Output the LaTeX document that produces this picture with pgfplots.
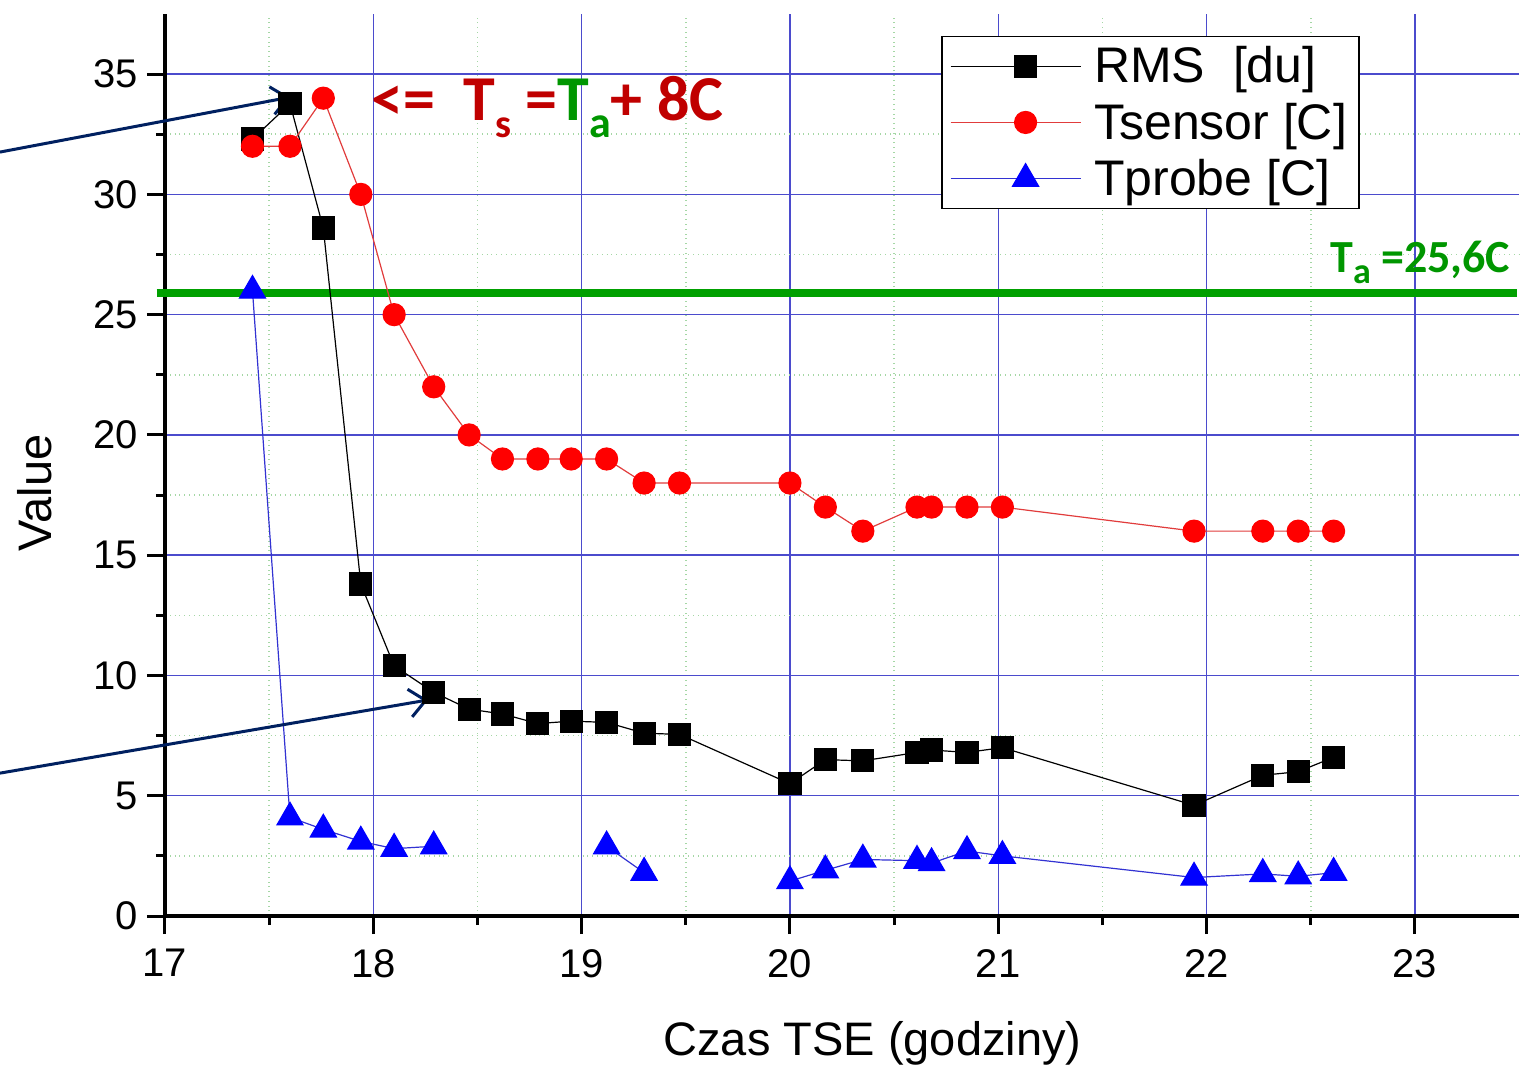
\documentclass[border=0pt]{standalone}
\usepackage{fontspec}
\setmainfont{Liberation Sans}
\newfontfamily\calibri{Carlito}
\usepackage{pgfplots}
\pgfplotsset{compat=1.18}
\usetikzlibrary{arrows.meta}
\definecolor{gridblue}{RGB}{75,75,205}
\definecolor{gridgreen}{RGB}{165,215,165}
\definecolor{darkred}{RGB}{192,0,0}
\definecolor{tagreen}{RGB}{0,160,0}
\definecolor{txtgreen}{RGB}{0,150,0}
\definecolor{navy}{RGB}{0,32,96}
\definecolor{linered}{RGB}{225,60,60}
\definecolor{lineblue}{RGB}{50,50,210}
\newcommand{\sub}[3]{\raisebox{-#1}{\fontsize{#2}{#2}\selectfont #3}}
\begin{document}
\begin{tikzpicture}
\useasboundingbox (-82.5pt,-77.5pt) rectangle (683pt,458pt);
\begin{axis}[
  at={(0,0)}, anchor=south west,
  scale only axis, width=677pt, height=451pt,
  xmin=17, xmax=23.5, ymin=0, ymax=37.5,
  clip=false,
  axis x line*=bottom, axis y line*=left,
  axis line style={line width=2pt, black},
  xtick={17,...,23}, ytick={0,5,...,35},
  minor x tick num=1, minor y tick num=1,
  tick align=outside,
  major tick length=9pt, minor tick length=4.5pt,
  every tick/.style={black, line width=1.5pt},
  grid=both,
  major grid style={gridblue, line width=0.7pt},
  minor grid style={gridgreen, dotted, line width=0.8pt},
  tick label style={font=\fontsize{20}{22}\selectfont},
  xticklabel style={yshift=-4pt},
  yticklabel style={xshift=-1pt},
  /pgf/number format/assume math mode=true,
  xlabel={Czas TSE (godziny)}, ylabel={Value},
  label style={font=\fontsize{23.5}{26}\selectfont},
  xlabel style={at={(axis description cs:0.5225,-0.1408)}, anchor=center},
  ylabel style={at={(axis description cs:-0.096,0.469)}, anchor=center},
  legend style={at={(axis description cs:0.5734,0.9756)}, anchor=north west,
    draw=black, line width=0.6pt, fill=white,
    font=\fontsize{25}{28}\selectfont, row sep=4.5pt,
    inner xsep=4pt, inner ysep=3pt,
    /tikz/column 1/.style={column sep=4.5pt}},
  legend cell align=left,
  legend image code/.code={\path (0pt,0pt) -- (10pt,0pt); \draw[mark repeat=2,mark phase=2] plot coordinates {(10pt,0pt)(37.5pt,0pt)(65pt,0pt)};},
  unbounded coords=jump,
]
\addplot[tagreen, line width=4pt, forget plot] coordinates {(16.96,25.9) (23.49,25.9)};

\addplot[black, line width=0.6pt, mark=square*, mark size=5.5pt, mark options={solid, fill=black}] coordinates {
(17.42,32.3) (17.60,33.77) (17.76,28.6) (17.94,13.8) (18.10,10.4) (18.29,9.3)
(18.46,8.6) (18.62,8.4) (18.79,8.0) (18.95,8.1) (19.12,8.05) (19.30,7.6) (19.47,7.55)
(20.00,5.5) (20.17,6.5) (20.35,6.45) (20.61,6.8) (20.68,6.9) (20.85,6.8) (21.02,7.0)
(21.94,4.6) (22.27,5.85) (22.44,6.0) (22.61,6.6)};
\addlegendentry{RMS\ \ [du]}

\addplot[linered, line width=0.6pt, mark=*, mark size=5.5pt, mark options={solid, fill=red, draw=red}] coordinates {
(17.42,32) (17.60,32) (17.76,34) (17.94,30) (18.10,25) (18.29,22)
(18.46,20) (18.62,19) (18.79,19) (18.95,19) (19.12,19) (19.30,18) (19.47,18)
(20.00,18) (20.17,17) (20.35,16) (20.61,17) (20.68,17) (20.85,17) (21.02,17)
(21.94,16) (22.27,16) (22.44,16) (22.61,16)};
\addlegendentry{Tsensor [C]}

\addplot[lineblue, line width=0.6pt, mark=triangle*, mark size=7.5pt, mark options={solid, fill=blue, draw=blue}] coordinates {
(17.42,26.0) (17.60,4.1) (17.76,3.6) (17.94,3.1) (18.10,2.8) (18.29,2.9)
(18.70,nan)
(19.12,2.9) (19.30,1.8)
(19.60,nan)
(20.00,1.45) (20.17,1.9) (20.35,2.35) (20.61,2.3) (20.68,2.2) (20.85,2.7) (21.02,2.5)
(21.94,1.6) (22.27,1.75) (22.44,1.65) (22.61,1.8)};
\addlegendentry{Tprobe [C]}

\node[anchor=base east, font=\calibri\bfseries\fontsize{23}{26}\selectfont, txtgreen, inner sep=0pt]
  at (axis cs:23.46,26.77) {T\sub{5.5pt}{18}{a} =25,6C};
\node[anchor=base west, font=\calibri\bfseries\fontsize{32}{35}\selectfont, inner sep=0pt]
  at (axis cs:17.99,33.08) {\textcolor{darkred}{<=\hspace{14pt}T\sub{8.5pt}{20}{s} =}\textcolor{txtgreen}{T\sub{8.5pt}{22}{a}}\textcolor{darkred}{+ 8C}};

\draw[navy, line width=1.5pt, -{Straight Barb[length=8pt,width=14pt]}] (axis cs:16.208,31.76) -- (axis cs:17.60,34.04);
\draw[navy, line width=1.5pt, -{Straight Barb[length=8pt,width=14pt]}] (axis cs:16.208,5.94) -- (axis cs:18.262,8.98);
\end{axis}
\end{tikzpicture}
\end{document}
